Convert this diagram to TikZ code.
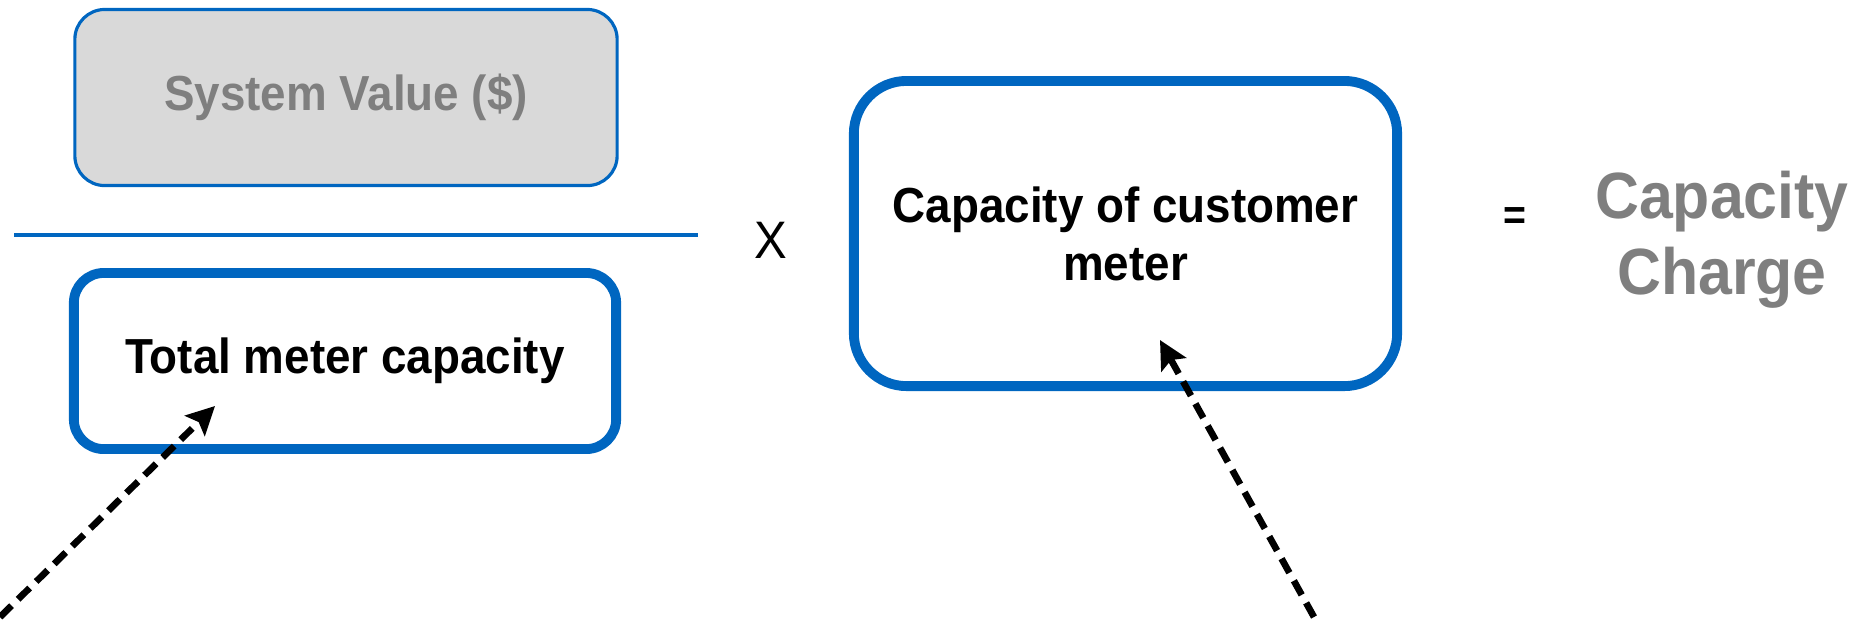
\documentclass[tikz,border=0pt]{standalone}
\usepackage{fontspec}
\setmainfont{Liberation Sans}[FakeStretch=0.93]
\usetikzlibrary{arrows.meta}
\definecolor{boxblue}{RGB}{0,102,192}
\definecolor{valgray}{RGB}{127,127,127}
\definecolor{boxfill}{RGB}{217,217,217}
\tikzset{
  sysbox/.style={draw=boxblue, line width=0.9pt, fill=boxfill, rounded corners=8.5pt,
    minimum width=5.42cm, minimum height=1.76cm, text=valgray,
    font=\bfseries\fontsize{14}{16.5}\selectfont},
  meterbox/.style={draw=boxblue, line width=2.8pt, rounded corners=8.5pt,
    minimum width=5.42cm, minimum height=1.76cm, align=center,
    font=\bfseries\fontsize{14}{16.5}\selectfont},
  pointer/.style={-{Stealth[length=8pt,width=8pt,inset=1.5pt]}, line width=1.9pt,
    dash pattern=on 4.6pt off 2.6pt}
}
\begin{document}
\begin{tikzpicture}[x=0.01cm,y=-0.01cm]
\useasboundingbox (0,0) rectangle (1860,620);
% fraction
\node (sv) [sysbox] at (346,97.5) {System Value (\$)};
\draw[boxblue, line width=1.1pt] (14,235) -- (698,235);
\node (tmc) [meterbox] at (345,361) {Total meter capacity};
% times customer meter
\node (x) [font=\fontsize{15}{17}\selectfont] at (771,240) {X};
\node (ccm) [meterbox, minimum width=5.43cm, minimum height=3.05cm, rounded corners=15pt]
  at (1125.5,233.5) {Capacity of customer\\meter};
\node (eq) [font=\bfseries\fontsize{12}{13}\selectfont] at (1515,219) {=};
\node (cc) [align=center, text=valgray, font=\bfseries\fontsize{18.6}{21.5}\selectfont]
  at (1722,240) {Capacity\\Charge};
% pointers
\coordinate (p1) at (0,617);
\coordinate (q1) at (215,406);
\coordinate (p2) at (1314,617);
\coordinate (q2) at (1160,340);
\draw[pointer] (p1) -- (q1);
\draw[pointer] (p2) -- (q2);
\end{tikzpicture}
\end{document}
